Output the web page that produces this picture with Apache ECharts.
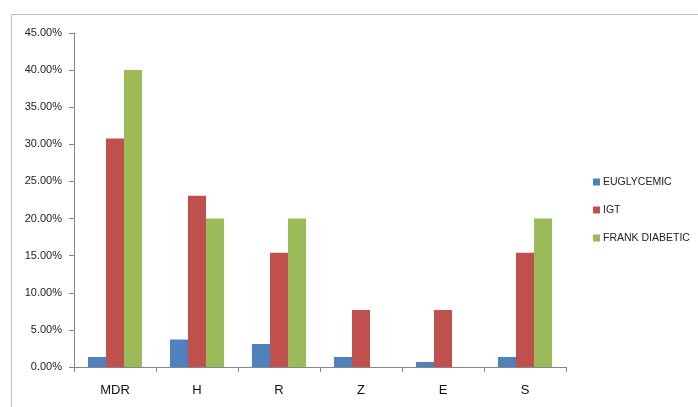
<!DOCTYPE html>
<html>
<head>
<meta charset="utf-8">
<script src="https://cdn.jsdelivr.net/npm/echarts@6/dist/echarts.min.js"></script>
<style>html,body{margin:0;padding:0;background:#fff}#c{width:698px;height:407px}</style>
</head>
<body>
<div id="c"></div>
<script>
var categories = ['MDR', 'H', 'R', 'Z', 'E', 'S'];
var euglycemic = [1.35, 3.7, 3.1, 1.35, 0.68, 1.35];
var igt = [30.77, 23.08, 15.38, 7.69, 7.69, 15.38];
var frankDiabetic = [40, 20, 20, 0, 0, 20];
var seriesNames = ['EUGLYCEMIC', 'IGT', 'FRANK DIABETIC'];
var colors = ['#4F81BD', '#C0504D', '#9BBB59'];

var chart = echarts.init(document.getElementById('c'));
var font = 'Liberation Sans, Arial, sans-serif';
function bar(name, data, color) {
  return {
    name: name, type: 'bar', data: data, barGap: '0%', barCategoryGap: '34%',
    itemStyle: { color: color }, emphasis: { disabled: true }
  };
}
chart.setOption({
  animation: false,
  graphic: [{
    type: 'rect', left: 9, top: 12, shape: { width: 720, height: 420 },
    style: { fill: 'none', stroke: '#bfbfbf', lineWidth: 1 }, silent: true
  }],
  grid: { left: 74, right: 132, top: 33, bottom: 40, containLabel: false },
  legend: {
    orient: 'vertical', left: 588, top: 170, itemGap: 14, itemWidth: 7, itemHeight: 7,
    icon: 'rect', selectedMode: false,
    textStyle: { fontFamily: font, fontSize: 10.5, color: '#222', lineHeight: 14, padding: [0, 0, 0, -2] },
    itemGap: 14,
    data: seriesNames
  },
  xAxis: {
    type: 'category', data: categories,
    axisLine: { lineStyle: { color: '#868686' } },
    axisTick: { show: true, length: 5, lineStyle: { color: '#868686' } },
    axisLabel: { fontFamily: font, fontSize: 13, color: '#111', margin: 17 }
  },
  yAxis: {
    type: 'value', min: 0, max: 45, interval: 5,
    axisLine: { show: true, lineStyle: { color: '#868686' } },
    axisTick: { show: true, length: 5, lineStyle: { color: '#868686' } },
    splitLine: { show: false },
    axisLabel: { fontFamily: font, fontSize: 11, color: '#222', margin: 12,
      formatter: function (v) { return v.toFixed(2) + '%'; } }
  },
  series: [
    bar(seriesNames[0], euglycemic, colors[0]),
    bar(seriesNames[1], igt, colors[1]),
    bar(seriesNames[2], frankDiabetic, colors[2])
  ]
});
</script>
</body>
</html>
